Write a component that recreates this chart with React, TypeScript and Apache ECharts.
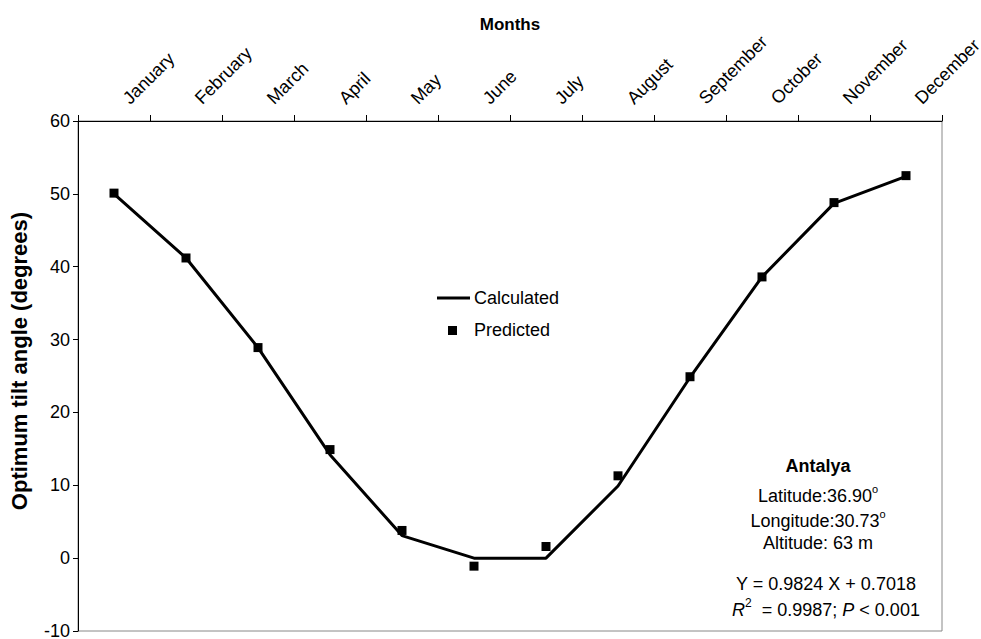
import React, { useEffect, useRef } from "react";
import * as echarts from "echarts";

const months = ["January", "February", "March", "April", "May", "June", "July", "August", "September", "October", "November", "December"];
const calculated = [50, 41.2, 28.9, 14.2, 3.1, 0, 0, 9.9, 24.8, 38.6, 48.7, 52.4];
const predicted = [50.1, 41.2, 28.9, 14.9, 3.8, -1.1, 1.6, 11.3, 24.9, 38.6, 48.8, 52.5];
const yTicks = { min: -10, max: 60, interval: 10 };

const FONT = "Liberation Sans";

export default function App() {
  const ref = useRef<HTMLDivElement>(null);
  useEffect(() => {
    if (!ref.current) return;
    const chart = echarts.init(ref.current, null, { renderer: "svg" });
    const txt = { fontFamily: FONT, fontSize: 18, fill: "#000" };
    chart.setOption({
      animation: false,
      backgroundColor: "#fff",
      grid: {
        left: 78, right: 39, top: 121, bottom: 8,
        outerBoundsMode: "none", containLabel: false,
        show: true, borderColor: "#888", borderWidth: 1, backgroundColor: "transparent",
      },
      xAxis: {
        type: "category",
        position: "top",
        data: months,
        boundaryGap: true,
        axisLine: { onZero: false, lineStyle: { color: "#000", width: 1 } },
        axisTick: { show: true, length: 6, lineStyle: { color: "#000" } },
        axisLabel: { rotate: -45, margin: 8, padding: [0, 0, 0, 17], fontFamily: FONT, fontSize: 18, color: "#000", interval: 0 },
        splitLine: { show: false },
      },
      yAxis: {
        type: "value",
        min: yTicks.min,
        max: yTicks.max,
        interval: yTicks.interval,
        axisLine: { show: true, onZero: false, lineStyle: { color: "#000", width: 1 } },
        axisTick: { show: true, length: 5, lineStyle: { color: "#000" } },
        axisLabel: { margin: 8, fontFamily: FONT, fontSize: 18, color: "#000" },
        splitLine: { show: false },
      },
      series: [
        {
          name: "Calculated",
          type: "line",
          data: calculated,
          symbol: "none",
          lineStyle: { color: "#000", width: 3 },
          z: 2,
        },
        {
          name: "Predicted",
          type: "scatter",
          data: predicted,
          symbol: "rect",
          symbolSize: 9,
          itemStyle: { color: "#000", opacity: 1 },
          z: 3,
        },
      ],
      graphic: [
        {
          type: "text", x: 510, y: 24,
          style: { ...txt, fontSize: 17, fontWeight: "bold", text: "Months", align: "center", verticalAlign: "middle" },
        },
        {
          type: "text", x: 19, y: 361, rotation: Math.PI / 2,
          style: { ...txt, fontSize: 22, fontWeight: "bold", text: "Optimum tilt angle (degrees)", align: "center", verticalAlign: "middle" },
        },
        { type: "line", shape: { x1: 437, y1: 298, x2: 470, y2: 298 }, style: { stroke: "#000", lineWidth: 3 } },
        { type: "text", x: 474, y: 298, style: { ...txt, text: "Calculated", verticalAlign: "middle" } },
        { type: "rect", shape: { x: 448, y: 326, width: 9, height: 9 }, style: { fill: "#000" } },
        { type: "text", x: 474, y: 330, style: { ...txt, text: "Predicted", verticalAlign: "middle" } },
        { type: "text", x: 818, y: 466, style: { ...txt, text: "Antalya", fontWeight: "bold", align: "center", verticalAlign: "middle" } },
        {
          type: "text", x: 818, y: 494,
          style: {
            text: "{a|Latitude:36.90}{s|o}", align: "center", verticalAlign: "middle",
            rich: { a: { fontFamily: FONT, fontSize: 18, color: "#000", lineHeight: 22, verticalAlign: "bottom" }, s: { fontFamily: FONT, fontSize: 11, color: "#000", lineHeight: 11, verticalAlign: "top" } },
          },
        },
        {
          type: "text", x: 818, y: 519,
          style: {
            text: "{a|Longitude:30.73}{s|o}", align: "center", verticalAlign: "middle",
            rich: { a: { fontFamily: FONT, fontSize: 18, color: "#000", lineHeight: 22, verticalAlign: "bottom" }, s: { fontFamily: FONT, fontSize: 11, color: "#000", lineHeight: 11, verticalAlign: "top" } },
          },
        },
        { type: "text", x: 818, y: 543, style: { ...txt, text: "Altitude: 63 m", align: "center", verticalAlign: "middle" } },
        { type: "text", x: 826, y: 584, style: { ...txt, text: "Y = 0.9824 X + 0.7018", align: "center", verticalAlign: "middle" } },
        {
          type: "text", x: 826, y: 608,
          style: {
            text: "{i|R}{s|2}{a|  = 0.9987; }{i|P}{a| < 0.001}", align: "center", verticalAlign: "middle",
            rich: {
              a: { fontFamily: FONT, fontSize: 18, color: "#000", lineHeight: 22, verticalAlign: "bottom" },
              i: { fontFamily: FONT, fontSize: 18, fontStyle: "italic", color: "#000", lineHeight: 22, verticalAlign: "bottom" },
              s: { fontFamily: FONT, fontSize: 12, color: "#000", lineHeight: 12, verticalAlign: "top" },
            },
          },
        },
      ],
    });
    return () => chart.dispose();
  }, []);
  return <div ref={ref} style={{ width: 981, height: 639, position: "absolute", left: 0, top: 0 }} />;
}
